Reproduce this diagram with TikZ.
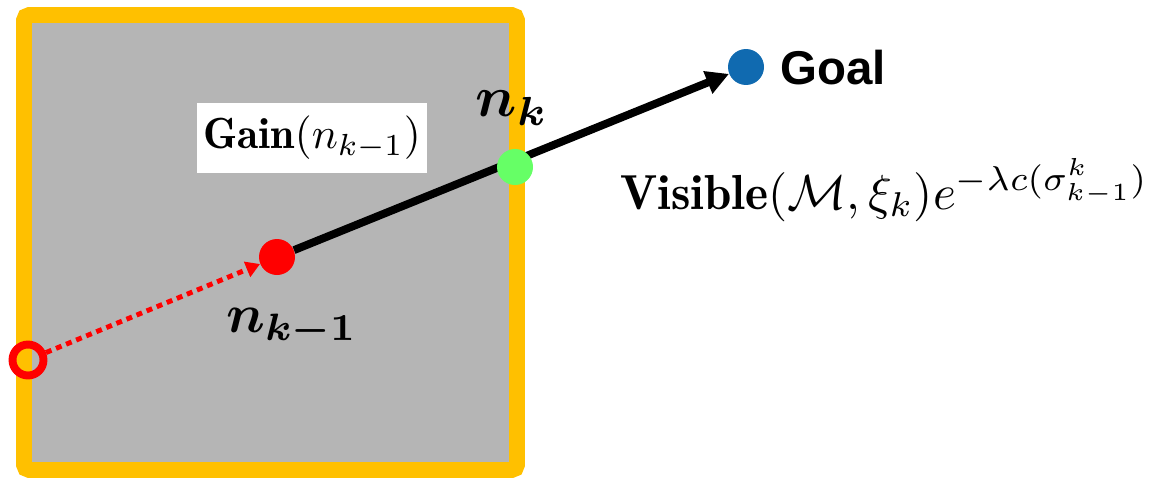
\documentclass[tikz,border=0pt]{standalone}
\usepackage{amsmath}
\usepackage{graphicx}
\usepackage{fontspec}
\setsansfont{Liberation Sans}
\usetikzlibrary{arrows.meta}

\definecolor{frameyellow}{HTML}{FFC000}
\definecolor{cellgray}{HTML}{B5B5B5}
\definecolor{nodegreen}{HTML}{66FF66}
\definecolor{goalblue}{HTML}{106AB0}

\begin{document}
\begin{tikzpicture}[x=0.02cm, y=-0.02cm,
  dot/.style={circle, inner sep=0pt, minimum size=0.72cm},
  ring/.style={circle, draw=red, line width=4.5pt, inner sep=0pt, minimum size=0.62cm},
  frame/.style={draw=frameyellow, fill=cellgray, line width=9pt, rounded corners=3pt},
  gainbox/.style={fill=white, inner sep=1pt, minimum width=4.6cm, minimum height=1.4cm},
  pathline/.style={line width=4.5pt, -{Triangle[length=13pt, width=13pt]}},
  trail/.style={red, line width=2.8pt, dash pattern=on 3.4pt off 2.8pt, -{Triangle[length=8pt, width=9pt]}}]

\useasboundingbox (0,0) rectangle (1151,477);
\draw[frame] (24,15) rectangle (517,470);

\node[gainbox] (gain) at (312,138) {\scalebox{2.48}{$\mathbf{Gain}(n_{k-1})$}};

\node[dot, fill=red] (n1) at (277,257) {};
\node[dot, fill=goalblue] (goal) at (746,67) {};
\node[ring] (start) at (28,360) {};

\draw[trail] (start) -- (n1);
\draw[pathline] (n1) -- (goal);

\node[dot, fill=nodegreen] (n2) at (515,167) {};

\node (nklab) at (512,108) {\scalebox{3.3}{$\boldsymbol{n_k}$}};
\node (nk1lab) at (292,328) {\scalebox{3.1}{$\boldsymbol{n_{k-1}}$}};
\node[anchor=west, font=\sffamily\bfseries\fontsize{27}{32}\selectfont] (goallab) at (774,68) {Goal};
\node[anchor=west] (vislab) at (614,190) {\scalebox{2.8}{$\mathbf{Visible}(\mathcal{M},\xi_k)e^{-\lambda c(\sigma^k_{k-1})}$}};

\end{tikzpicture}
\end{document}
